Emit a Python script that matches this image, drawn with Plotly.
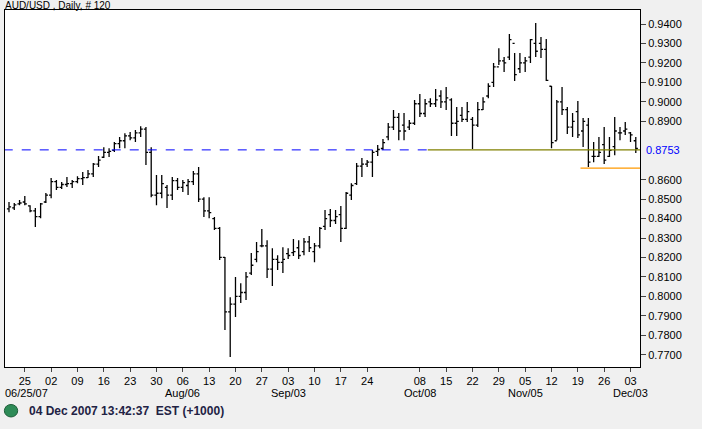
import plotly.graph_objects as go

# AUD/USD daily bars, 20 Jun 2007 .. 04 Dec 2007 (120 bars)
highs = [.8485, .8480, .8495, .8516, .8469, .8454, .8480, .8531, .8608, .8598,
         .8588, .8613, .8598, .8618, .8639, .8649, .8685, .8721, .8767, .8762,
         .8793, .8819, .8839, .8845, .8855, .8875, .8870, .8767, .8624, .8624,
         .8572, .8613, .8608, .8598, .8603, .8644, .8665, .8510, .8510, .8408,
         .8356, .8202, .7996, .8099, .8068, .8125, .8223, .8279, .8346, .8289,
         .8248, .8212, .8253, .8248, .8295, .8289, .8300, .8310, .8274, .8356,
         .8444, .8449, .8444, .8464, .8536, .8582, .8685, .8711, .8701, .8752,
         .8778, .8809, .8891, .8958, .8942, .8942, .8906, .9009, .9040, .9014,
         .9019, .9066, .9060, .9076, .9019, .8973, .8973, .8999, .8922, .8999,
         .9024, .9096, .9199, .9276, .9230, .9348, .9251, .9251, .9230, .9323,
         .9405, .9333, .9323, .9081, .9009, .9076, .8973, .8942, .9004, .8917,
         .8917, .8793, .8819, .8870, .8819, .8922, .8870, .8896, .8845, .8819]
lows = [.8433, .8444, .8469, .8469, .8433, .8356, .8402, .8480, .8505, .8547,
        .8552, .8562, .8557, .8582, .8572, .8608, .8613, .8665, .8711, .8716,
        .8742, .8762, .8762, .8803, .8793, .8819, .8675, .8510, .8469, .8505,
        .8454, .8495, .8547, .8536, .8521, .8572, .8485, .8408, .8402, .8341,
        .8187, .7827, .7688, .7894, .7966, .7981, .8110, .8176, .8253, .8094,
        .8053, .8135, .8120, .8192, .8207, .8192, .8212, .8228, .8176, .8248,
        .8341, .8356, .8372, .8279, .8346, .8495, .8572, .8613, .8665, .8613,
        .8721, .8752, .8803, .8855, .8803, .8803, .8855, .8881, .8922, .8922,
        .8973, .8973, .8968, .8958, .8824, .8824, .8896, .8896, .8757, .8870,
        .8958, .9019, .9076, .9189, .9153, .9215, .9107, .9148, .9153, .9199,
        .9230, .9225, .9107, .8762, .8803, .8932, .8834, .8819, .8814, .8768,
        .8665, .8690, .8716, .8680, .8716, .8726, .8803, .8829, .8793, .8737]
closes = [.8460, .8470, .8480, .8475, .8440, .8410, .8475, .8520, .8590, .8560,
          .8575, .8580, .8590, .8605, .8610, .8630, .8680, .8700, .8740, .8745,
          .8785, .8800, .8825, .8815, .8840, .8860, .8740, .8520, .8530, .8580,
          .8520, .8595, .8560, .8585, .8590, .8630, .8500, .8440, .8430, .8350,
          .8200, .7920, .7960, .8000, .8020, .8100, .8160, .8230, .8260, .8140,
          .8190, .8175, .8190, .8210, .8230, .8210, .8280, .8250, .8260, .8350,
          .8400, .8390, .8410, .8350, .8530, .8570, .8670, .8680, .8690, .8740,
          .8755, .8790, .8870, .8920, .8850, .8850, .8890, .8990, .8940, .8990,
          .8990, .9010, .9000, .9020, .8890, .8900, .8910, .8950, .8880, .8960,
          .9000, .9080, .9180, .9210, .9200, .9320, .9140, .9200, .9210, .9320,
          .9260, .9270, .9110, .8790, .9000, .8960, .8870, .8900, .8830, .8900,
          .8690, .8720, .8740, .8700, .8750, .8850, .8840, .8860, .8830, .8760]
opens = [.8450, .8455, .8475, .8485, .8465, .8440, .8410, .8485, .8520, .8590,
         .8560, .8575, .8580, .8590, .8605, .8610, .8630, .8680, .8715, .8740,
         .8750, .8785, .8800, .8825, .8815, .8840, .8860, .8740, .8520, .8530,
         .8560, .8520, .8595, .8560, .8570, .8590, .8630, .8500, .8440, .8400,
         .8350, .8200, .7920, .7960, .8000, .8020, .8120, .8190, .8260, .8260,
         .8140, .8190, .8175, .8220, .8225, .8250, .8230, .8280, .8230, .8260,
         .8360, .8420, .8390, .8420, .8350, .8520, .8580, .8670, .8680, .8690,
         .8745, .8760, .8820, .8870, .8920, .8880, .8870, .8890, .8990, .8940,
         .9000, .8990, .9030, .9000, .9010, .8890, .8930, .8910, .8910, .8880,
         .8960, .9030, .9100, .9180, .9210, .9230, .9300, .9170, .9200, .9230,
         .9300, .9300, .9270, .9080, .8800, .9000, .8960, .8870, .8950, .8850,
         .8880, .8720, .8720, .8780, .8720, .8770, .8840, .8850, .8840, .8800]

tick_idx = [3, 8, 13, 18, 23, 28, 33, 38, 43, 48, 53, 58, 63, 68,
            78, 83, 88, 93, 98, 103, 108, 113, 118]
tick_days = ['25', '02', '09', '16', '23', '30', '06', '13', '20', '27', '03', '10',
             '17', '24', '08', '15', '22', '29', '05', '12', '19', '26', '03']
month_idx = [3, 33, 53, 78, 98, 118]
month_text = ['06/25/07', 'Aug/06', 'Sep/03', 'Oct/08', 'Nov/05', 'Dec/03']

price_ticks = [0.94, 0.93, 0.92, 0.91, 0.90, 0.89, 0.86, 0.85, 0.84, 0.83,
               0.82, 0.81, 0.80, 0.79, 0.78, 0.77]

last_price = 0.8753
dash_end = 79.5
low_level = 0.8659
low_start = 108.5

x = list(range(len(closes)))

fig = go.Figure()
fig.add_trace(go.Ohlc(x=x, open=opens, high=highs, low=lows, close=closes,
                      increasing=dict(line=dict(color='black', width=1.3)),
                      decreasing=dict(line=dict(color='black', width=1.3)),
                      tickwidth=0.4, showlegend=False, hoverinfo='skip'))

fig.add_shape(type='line', xref='x', yref='y', x0=-1, x1=dash_end,
              y0=last_price, y1=last_price, line=dict(color='#0000ff', width=1, dash='dash'))
fig.add_shape(type='line', xref='x', yref='y', x0=dash_end, x1=121,
              y0=last_price, y1=last_price, line=dict(color='#808000', width=1.3))
fig.add_shape(type='line', xref='x', yref='y', x0=low_start, x1=121,
              y0=low_level, y1=low_level, line=dict(color='#ff9900', width=1.3))

fig.add_annotation(xref='paper', yref='y', x=1.0, y=last_price, xanchor='left',
                   xshift=4, text='0.8753', showarrow=False,
                   font=dict(color='#0000ff', size=11))
for i, t in zip(month_idx, month_text):
    fig.add_annotation(xref='x', yref='paper', x=i, y=0, yshift=-26,
                       xanchor='left' if i == 3 else 'center', xshift=-22 if i == 3 else 0,
                       yanchor='middle', text=t, showarrow=False, font=dict(size=11))
fig.add_annotation(xref='paper', yref='paper', x=-0.003, y=1.0, yshift=-3,
                   xanchor='left', yanchor='bottom', text='AUD/USD , Daily, # 120',
                   showarrow=False, font=dict(size=10, color='black'))
fig.add_shape(type='circle', xref='paper', yref='paper',
              x0=-0.001, x1=0.02, y0=-0.14, y1=-0.105,
              fillcolor='#2e8b57', line=dict(color='#1f5f3a', width=1))
fig.add_annotation(xref='paper', yref='paper', x=0.034, y=-0.123, xanchor='left',
                   yanchor='middle', text='<b>04 Dec 2007 13:42:37  EST (+1000)</b>',
                   showarrow=False, font=dict(size=12, color='#222244'))

fig.update_layout(
    width=702, height=429, autosize=False,
    margin=dict(l=5, r=62, t=10, b=62, pad=0),
    paper_bgcolor='#f0f0f0', plot_bgcolor='white',
    font=dict(family='Liberation Sans, Arial', size=11, color='black'),
    xaxis=dict(range=[-0.76, 119.8], tickvals=tick_idx, ticktext=tick_days,
               tickangle=0, ticks='outside', ticklen=4, showgrid=False, zeroline=False,
               showline=True, linecolor='black', mirror=True,
               rangeslider=dict(visible=False), fixedrange=True),
    yaxis=dict(range=[0.7637, 0.9472], side='right', tickvals=price_ticks,
               tickformat='.4f', ticks='outside', ticklen=5, showgrid=False,
               zeroline=False, showline=True, linecolor='black', mirror=True,
               fixedrange=True),
)

fig.write_html("out.html", config={'displayModeBar': False},
               post_script="document.body.style.margin='0';document.body.style.background='#f0f0f0';")
